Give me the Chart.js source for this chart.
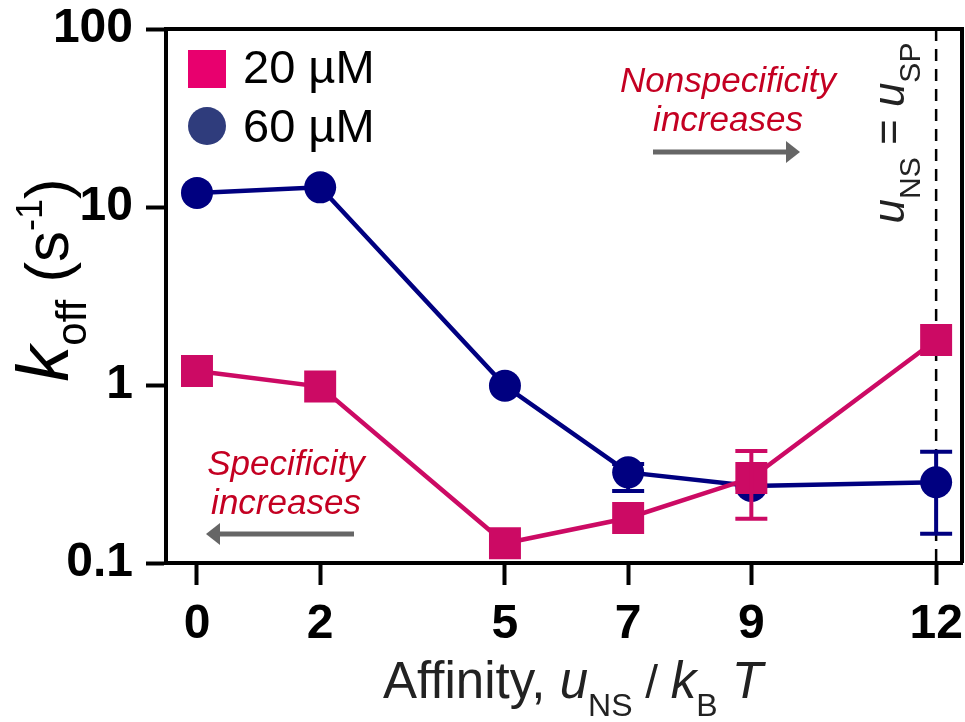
<!DOCTYPE html>
<html>
<head>
<meta charset="utf-8">
<script src="https://cdn.jsdelivr.net/npm/chart.js@4"></script>
<style>
  html, body { margin: 0; padding: 0; background: #fff; }
  #wrap { width: 965px; height: 722px; }
</style>
</head>
<body>
<div id="wrap"><canvas id="chart" width="965" height="722"></canvas></div>
<script>
/* data */
const affinity = [0, 2, 5, 7, 9, 12];
const koff20 = [1.2, 0.98, 0.129, 0.179, 0.30, 1.79];
const koff60 = [12.0, 12.9, 0.99, 0.323, 0.271, 0.284];
// error bars (null = none visible)
const err20Hi = [null, null, null, null, 0.426, null];
const err20Lo = [null, null, null, null, 0.177, null];
const err60Hi = [null, null, null, 0.36, null, 0.422];
const err60Lo = [null, null, null, 0.254, null, 0.146];

const xTicks = [0, 2, 5, 7, 9, 12];
const yTicks = [0.1, 1, 10, 100];
const yTickLabels = ['0.1', '1', '10', '100'];
const legendLabels = ['20 \u00b5M', '60 \u00b5M'];

const PINK = '#CC0A64';
const NAVY = '#000080';
const RED_TXT = '#C40022';
const ARROW = '#666666';
const SANS = '"Liberation Sans", Arial, Helvetica, sans-serif';

// draws a run of text pieces [text, font, dy] starting at x (or centred)
function richText(ctx, parts, x, y, center) {
  let total = 0;
  parts.forEach(p => { ctx.font = p[1]; total += ctx.measureText(p[0]).width; });
  let cx = center ? x - total / 2 : x;
  parts.forEach(p => {
    ctx.font = p[1];
    ctx.fillText(p[0], cx, y + (p[2] || 0));
    cx += ctx.measureText(p[0]).width;
  });
}

function arrow(ctx, x1, x2, y) {
  const dir = Math.sign(x2 - x1);
  ctx.save();
  ctx.strokeStyle = ARROW;
  ctx.fillStyle = ARROW;
  ctx.lineWidth = 5;
  ctx.beginPath();
  ctx.moveTo(x1, y);
  ctx.lineTo(x2 - dir * 12, y);
  ctx.stroke();
  ctx.beginPath();
  ctx.moveTo(x2, y);
  ctx.lineTo(x2 - dir * 14, y - 11);
  ctx.lineTo(x2 - dir * 14, y + 11);
  ctx.closePath();
  ctx.fill();
  ctx.restore();
}

const dashedLine = {
  id: 'dashedLine',
  beforeDatasetsDraw(chart) {
    const { ctx, chartArea } = chart;
    const x = chart.scales.x.getPixelForValue(12);
    ctx.save();
    ctx.strokeStyle = '#000';
    ctx.lineWidth = 2.5;
    ctx.setLineDash([12, 8]);
    ctx.beginPath();
    ctx.moveTo(x, chartArea.top);
    ctx.lineTo(x, chartArea.bottom);
    ctx.stroke();
    ctx.restore();
  }
};

const errorBars = {
  id: 'errorBars',
  afterDatasetsDraw(chart) {
    const { ctx } = chart;
    const xs = chart.scales.x, ys = chart.scales.y;
    const sets = [[err60Hi, err60Lo, NAVY], [err20Hi, err20Lo, PINK]];
    ctx.save();
    ctx.lineWidth = 4;
    sets.forEach(([hi, lo, color]) => {
      ctx.strokeStyle = color;
      affinity.forEach((a, i) => {
        if (hi[i] == null) return;
        const x = xs.getPixelForValue(a);
        const yh = ys.getPixelForValue(hi[i]);
        const yl = ys.getPixelForValue(lo[i]);
        ctx.beginPath();
        ctx.moveTo(x, yh); ctx.lineTo(x, yl);
        ctx.moveTo(x - 16, yh); ctx.lineTo(x + 16, yh);
        ctx.moveTo(x - 16, yl); ctx.lineTo(x + 16, yl);
        ctx.stroke();
      });
    });
    ctx.restore();
  }
};

const decorations = {
  id: 'decorations',
  afterDraw(chart) {
    const { ctx, chartArea } = chart;
    ctx.save();
    // top + right frame
    ctx.strokeStyle = '#000';
    ctx.lineWidth = 4;
    ctx.beginPath();
    ctx.moveTo(chartArea.left, chartArea.top);
    ctx.lineTo(chartArea.right, chartArea.top);
    ctx.lineTo(chartArea.right, chartArea.bottom);
    ctx.stroke();

    // legend
    ctx.fillStyle = '#E8006E';
    ctx.fillRect(188, 50, 38, 38);
    ctx.fillStyle = '#2F3C7C';
    ctx.beginPath();
    ctx.arc(207, 126, 19, 0, Math.PI * 2);
    ctx.fill();
    ctx.fillStyle = '#000';
    ctx.textBaseline = 'alphabetic';
    ctx.textAlign = 'left';
    ctx.font = '47px ' + SANS;
    ctx.fillText(legendLabels[0], 243, 83);
    ctx.fillText(legendLabels[1], 243, 142);

    // annotations
    ctx.fillStyle = RED_TXT;
    ctx.textAlign = 'center';
    ctx.font = 'italic 35px ' + SANS;
    ctx.fillText('Nonspecificity', 728, 92);
    ctx.fillText('increases', 728, 131);
    ctx.fillText('Specificity', 286, 475);
    ctx.fillText('increases', 286, 514);
    arrow(ctx, 653, 800, 152);
    arrow(ctx, 354, 206, 534);

    // vertical u_NS = u_SP
    ctx.textAlign = 'left';
    ctx.fillStyle = '#222';
    ctx.save();
    ctx.translate(904, 133);
    ctx.rotate(-Math.PI / 2);
    const big = '44px ' + SANS, bigI = 'italic 44px ' + SANS, sub = '30px ' + SANS;
    richText(ctx, [['u', bigI], ['NS', sub, 16], [' = ', big], ['u', bigI], ['SP', sub, 16]], 0, 0, true);
    ctx.restore();

    // y title
    ctx.fillStyle = '#000';
    ctx.save();
    ctx.translate(68, 280);
    ctx.rotate(-Math.PI / 2);
    richText(ctx, [
      ['k', 'italic 72px ' + SANS],
      ['off', '42px ' + SANS, 18],
      [' (s', '62px ' + SANS],
      ['-1', '36px ' + SANS, -26],
      [')', '62px ' + SANS]
    ], 0, 0, true);
    ctx.restore();

    // x title
    ctx.fillStyle = '#222';
    richText(ctx, [
      ['Affinity, ', '51px ' + SANS],
      ['u', 'italic 51px ' + SANS],
      ['NS', '32px ' + SANS, 18],
      [' / ', '46px ' + SANS],
      ['k', 'italic 51px ' + SANS],
      ['B', '32px ' + SANS, 18],
      [' T', 'italic 51px ' + SANS]
    ], 573, 698, true);
    ctx.restore();
  }
};

const axisFont = { family: SANS, size: 48, weight: 'bold' };

new Chart(document.getElementById('chart'), {
  type: 'line',
  data: {
    datasets: [
      {
        label: legendLabels[0],
        data: affinity.map((a, i) => ({ x: a, y: koff20[i] })),
        borderColor: PINK,
        backgroundColor: PINK,
        borderWidth: 4.5,
        pointStyle: 'rect',
        pointRadius: 22.6,
        pointBorderWidth: 0,
        tension: 0,
        clip: false
      },
      {
        label: legendLabels[1],
        data: affinity.map((a, i) => ({ x: a, y: koff60[i] })),
        borderColor: NAVY,
        backgroundColor: NAVY,
        borderWidth: 4.5,
        pointStyle: 'circle',
        pointRadius: 16,
        pointBorderWidth: 0,
        tension: 0,
        clip: false
      }
    ]
  },
  options: {
    responsive: false,
    animation: false,
    layout: { autoPadding: false, padding: { top: 29, right: 3, left: 0, bottom: 0 } },
    plugins: { legend: { display: false }, tooltip: { enabled: false } },
    elements: { point: { hoverRadius: 0 } },
    scales: {
      x: {
        type: 'linear',
        min: -0.503,
        max: 12.42,
        afterBuildTicks: s => { s.ticks = xTicks.map(v => ({ value: v })); },
        afterFit: s => { s.height = 159; s.paddingLeft = 0; s.paddingRight = 0; },
        border: { color: '#000', width: 4 },
        grid: { drawOnChartArea: false, tickLength: 22, tickWidth: 4, tickColor: '#000' },
        ticks: { color: '#000', font: axisFont, padding: 11, maxRotation: 0 }
      },
      y: {
        type: 'logarithmic',
        min: 0.1,
        max: 100,
        afterBuildTicks: s => { s.ticks = yTicks.map(v => ({ value: v })); },
        afterFit: s => { s.width = 166; s.paddingTop = 0; s.paddingBottom = 0; },
        border: { color: '#000', width: 4 },
        grid: { drawOnChartArea: false, tickLength: 20, tickWidth: 4, tickColor: '#000' },
        ticks: {
          color: '#000', font: axisFont, padding: 13,
          callback: v => yTickLabels[yTicks.indexOf(v)] ?? ''
        }
      }
    }
  },
  plugins: [dashedLine, errorBars, decorations]
});
</script>
</body>
</html>
